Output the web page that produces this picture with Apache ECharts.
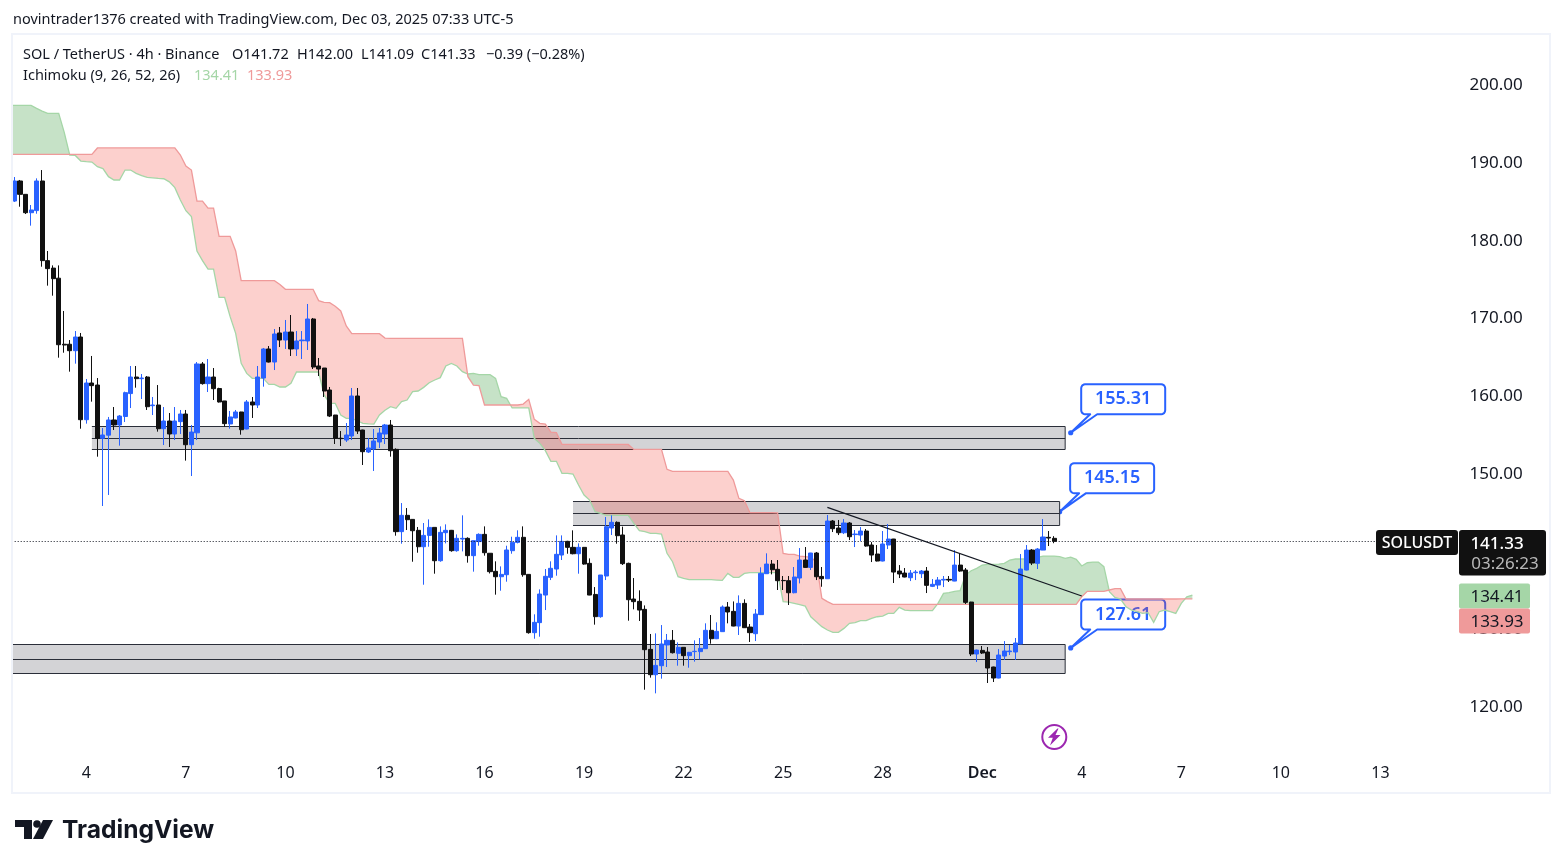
<!DOCTYPE html>
<html>
<head>
<meta charset="utf-8">
<style>html,body{margin:0;padding:0;background:#fff}#c{width:1563px;height:868px}</style>
<script src="https://cdn.jsdelivr.net/npm/echarts@6/dist/echarts.min.js"></script>
</head>
<body>
<div id="c"></div>
<script>
const opens=[185.13,187.71,185.99,183.63,183.9,187.71,177.46,176.5,175.2,166.7,
166.7,165.87,167.63,156.99,161.71,161.45,154.59,155,156.95,156.31,
157.4,160.35,162.48,162.27,162.48,158.79,158.88,155.83,156.82,155.15,
156.74,157.72,153.77,155.3,164.16,161.63,162.48,161,159.4,156.44,
157.21,157.98,155.79,159.27,158.88,162.35,166.09,164.41,168.15,167.24,
168.27,166.09,167.15,167.12,169.95,163.9,163.64,160.81,157.59,154.6,
154.37,154.89,160.04,155.66,152.83,153.22,154.12,155.15,156.3,153.17,
142.58,144.68,144.16,142.75,140.64,142.1,143.13,138.84,142.45,142.75,
140.13,141.63,141.72,139.49,141.3,142.23,139.8,137.47,136.78,137.04,
140.13,141.2,141.85,137.08,129.58,130.87,134.42,136.7,137.77,139.57,
141.33,140.56,139.74,140.56,138.5,134.5,131.64,136.87,143.05,143.78,
142.15,138.5,133.91,133.61,132.58,127.43,124.17,125.33,128,128.59,
126.92,127.69,126.62,127.14,127.14,127.52,129.88,128.8,129.71,132.88,
132.32,130.43,133.35,130.3,129.45,131.9,137.17,138.41,137.73,136.3,
136.27,134.72,136.61,138.93,137.98,139.83,136.82,136.52,143.95,143.05,
142.44,143.69,142.2,142.14,142.66,140.86,139.7,138.8,140.86,141.63,
137.51,137.25,136.65,137.3,137.17,137.51,135.54,135.71,136.35,136.44,
136.22,138.28,137.64,133.52,126.83,127.3,127.09,125.16,123.74,126.57,
127.13,127.09,128.12,137.64,140.21,138.5,140.21,141.85,141.72];
const highs=[188.22,187.84,185.99,184.62,188.05,189.12,178.7,176.85,176.85,170.98,
167.24,168.4,168.15,162.23,165.19,162.35,155.92,157.34,158.62,157.59,
160.6,163.9,163.9,162.87,162.61,159.91,161.45,158.62,157.85,158.62,
158.24,158.24,156.31,164.41,164.41,164.8,163.64,161.1,159.4,158.11,
158.24,158,159.52,159.91,163.9,166.22,166.47,168.66,168.92,169.82,
170.46,168.4,168.4,171.88,170.08,164.93,163.64,161.2,157.6,155.53,
156.56,161.07,161.07,155.7,154.63,155.79,155.92,156.44,156.95,153.3,
146.26,145.62,144.2,143.18,143.69,144.16,143.13,143.26,143.52,142.8,
142.23,144.68,141.85,141.46,142.36,143.26,139.8,138.76,138.11,140.77,
141.93,142.75,143.26,137.1,131.94,135.15,137.77,138.76,142.1,142.1,
141.4,142.75,141.07,140.6,139.14,135.45,137,144.46,144.68,143.9,
143.22,138.59,136.61,135.03,133.09,129.41,129.49,130.56,129.41,129.92,
128.33,127.7,127.1,128.59,128.89,130.78,131.85,130.91,133.09,133.52,
133.6,134.38,133.87,130.69,132.62,137.99,139.79,138.93,138.93,136.87,
136.87,138.03,140.47,140.6,139.85,139.96,138.03,144.72,144.08,144.08,
144.2,143.82,142.79,143.17,142.92,141.24,140.86,142.66,143.56,141.65,
138.28,137.9,137.64,137.64,137.64,138.03,136.48,136.74,136.87,136.87,
140.21,139.83,137.9,133.55,127.4,127.86,127.73,125.2,127.47,128.5,
127.99,128.89,139.7,140.86,140.34,140.47,144.2,142.66,142];
const lows=[185.01,184.4,183.46,181.96,183.5,176.68,174.24,172.95,164.97,165.61,
163.17,164.2,155.83,156.48,159.31,152.23,145.88,147.3,155.66,153.65,
156.69,158.49,161.11,159.65,158.24,157.59,155.45,153.73,153.47,154.37,
155.15,151.72,149.74,154.37,161.5,160.55,159.52,159.2,156.09,155.83,
157.17,155.06,155.75,157.21,158.49,161.24,164.35,163.38,166.34,166.09,
165.19,165.19,164.8,165.96,163.51,162.61,159.91,157.33,153.86,153.6,
154.12,154.37,155.15,151.16,152.7,150.39,153.35,153.86,152.23,142.06,
141.03,142.79,138.71,139.87,135.75,140.64,137.17,138.71,141.07,140,
140,140.04,138.59,137.43,140.77,139.49,137.2,134.47,134.98,136.14,
139.74,141.07,136.78,129.45,128.8,129.06,132.49,136.35,136.91,138.93,
139.74,139.66,137.17,138.33,134.4,130.61,131.5,136.35,142.15,141.03,
138.29,131.12,132.58,131.08,122.24,123.79,121.77,123.66,125.16,126.9,
125.33,125.33,125.07,125.85,126.15,127.5,128.16,128.75,129.7,130.78,
130.4,129.28,130.2,128.38,128.5,131.85,137.15,137.08,135.07,135.07,
133.14,134.64,135.92,137.95,137.64,136.35,135.49,136.5,142.53,142.14,
142.27,141.5,140.6,141.37,140.65,138.67,138.75,138.75,140.34,135.97,
136.61,136.7,136.22,136.35,136.61,134.68,135.45,135.2,135.45,136.1,
136.2,137.42,133.27,126.57,125.8,126.83,123.1,123.23,123.7,126.06,
126.7,126.06,128.1,137.6,138.28,137.77,140.2,140.73,141.09];
const closes=[187.71,185.99,183.63,183.98,187.71,177.46,176.43,175.14,166.64,166.6,
165.87,167.63,156.99,161.71,161.37,154.59,155.02,156.95,156.31,157.46,
160.47,162.48,162.27,162.35,158.66,158.88,155.83,156.82,155.15,156.82,
157.72,153.77,155.4,164.16,161.63,162.48,160.98,159.27,156.48,157.34,
157.98,155.7,159.27,158.88,162.48,166.09,164.41,168.02,167.24,168.27,
166.09,167.12,167.24,169.95,163.77,163.51,160.68,157.46,154.59,154.55,
155.02,160.04,155.53,152.87,153.35,154.25,155.28,156.31,153,142.58,
144.68,144.12,142.7,140.64,142.1,143.13,138.84,142.49,142.75,140.13,
141.72,141.72,139.49,141.42,142.23,139.87,137.43,136.78,137.08,140.22,
141.2,141.85,137.04,129.58,130.91,134.55,136.83,137.86,139.66,141.33,
140.56,139.74,140.56,138.41,134.42,131.64,137,143.22,143.78,142.06,
138.46,133.82,133.57,132.49,127.39,124.17,125.37,128.12,128.59,127,
127.69,126.62,127.05,127.18,127.56,129.88,128.8,129.75,132.88,132.24,
130.43,133.35,130.22,129.58,131.98,137.21,138.41,137.68,136.27,136.27,
134.72,136.74,138.93,137.98,139.83,136.78,136.52,143.95,142.96,142.44,
143.69,141.93,142.27,142.66,140.73,139.57,138.8,140.99,141.63,137.38,
137.13,136.74,137.25,137.38,137.51,135.67,135.8,136.35,136.44,136.35,
138.28,137.51,133.48,126.83,127.34,126.96,125.03,123.74,126.7,127.22,
127.22,128.25,137.77,140.21,138.54,140.34,141.89,141.76,141.33];
const spanA=[197.45,197.45,197.45,197.45,197.06,196.7,196.42,196.42,196.42,193.97,
191.05,191,190.28,190.2,190.15,189.55,189.3,188.27,187.84,187.84,
189.12,189.12,188.7,188.4,188.18,188.12,188.05,188,187.6,186.85,
185.26,183.89,183.12,178.7,177.46,176.38,176.38,172.74,172.74,170.25,
168.1,164.24,162.95,162.31,162.31,162.31,161.54,161.54,161.2,161.2,
161.67,163.13,163.13,163.13,163.13,163.13,160.17,159.1,159.1,157.6,
157.16,157.16,156.85,156.52,156.45,156.43,157.59,158.2,158.66,158.45,
159.31,159.52,160.6,160.68,161.15,161.75,162.1,162.4,163.9,164.24,
163.9,163.17,162.87,162.95,162.78,162.78,162.78,162.3,159.95,159.74,
158.5,158.5,158.5,158.5,154.59,153.94,153,151.63,151.63,150.08,
150.08,150,148.58,147.29,146.65,145.15,144.94,144.68,144.68,144.68,
144.68,144.68,143.65,142.7,142.58,142.36,142.36,142.27,139.79,138.71,
136.78,136.57,136.4,136.4,136.4,136.4,136.4,136.35,136.31,137.21,
136.7,136.7,137.21,137.3,137.3,137.3,137.3,137.3,137.3,133.57,
133.52,133.35,133.18,133,131.63,130.99,130.35,129.92,129.62,129.62,
130.13,130.78,130.86,131.12,131.12,131.42,131.63,131.72,132.06,132.06,
132.84,132.49,132.41,132.41,132.41,132.41,132.41,133.35,134.64,134.72,
134.89,134.98,137,137.55,137.85,138.28,138.37,138.37,138.41,138.5,
138.93,139.06,139.06,139.06,139.14,139.27,139.44,139.44,139.44,139.36,
139.14,139.31,139.01,138.16,138.58,138.67,138.67,138.07,134.85,134.12,
133.91,132.92,132.49,132.28,132.06,132.15,130.9,132.28,132.49,132.28,
132.06,133.35,134.2,134.41];
const spanB=[191.14,191.14,191.14,191.14,191.14,191.14,191.14,191.14,191.14,191.14,
191.14,191.14,191.14,191.14,191.14,191.96,191.96,191.96,191.96,191.96,
191.96,191.96,191.96,191.96,191.96,191.96,191.96,191.96,191.96,191.96,
191.05,189.64,189.12,185.13,185.13,184.23,184.23,180.59,180.59,180.59,
178.7,174.88,174.88,174.88,174.88,174.88,174.88,174.88,174.4,173.77,
173.77,173.77,173.77,173.77,173.77,172.31,172.1,172.05,171.6,170.98,
169.05,168.06,168.06,168.06,168.06,168.06,168.06,167.5,167.46,167.46,
167.46,167.46,167.46,167.46,167.46,167.46,167.46,167.46,167.46,167.46,
167.46,167.46,162.52,161.45,161.37,158.88,158.88,158.88,158.88,158.88,
158.88,158.88,159,159.61,157.03,156.52,156.43,155.4,155.32,153.81,
153.81,153.81,153.81,153.81,153.81,153.81,153.81,153.81,153.81,153.81,
153.81,153.81,153.17,153.17,153.17,153.17,153.17,153.17,150.6,150.34,
150.34,150.34,150.34,150.34,150.34,150.34,150.34,150.34,150.34,150.34,
149.22,146.87,146.57,145.02,145.02,145.02,145.02,145.02,145,139.79,
139.66,139.66,139.44,139.36,139.27,138.71,133.99,133.57,133.22,133.22,
133.22,133.22,133.22,133.22,133.22,133.22,133.22,133.22,133.22,133.22,
133.22,133.22,133.22,133.22,133.22,133.22,133.22,133.22,133.22,133.22,
133.22,133.22,133.22,133.22,133.22,133.22,133.22,133.22,133.22,133.22,
133.22,133.22,133.22,133.22,133.22,133.22,133.22,133.22,133.22,133.22,
133.22,133.22,133.22,134.2,134.9,134.9,134.9,134.9,135.07,135.24,
135.24,133.91,133.91,133.91,133.91,133.91,133.91,133.91,133.91,133.91,
133.91,133.93,133.93,133.93];
const tickIndexes=[13,31,49,67,85,103,121,139,157,175,193,211,229,247];
const tickLabels=['4','7','10','13','16','19','22','25','28','Dec','4','7','10','13'];
const priceTicks=[120,130,140,150,160,170,180,190,200];
const bandStart=[14,101,-1];
const bandEnd=[190,189,190];
const bandTop=[156.11,146.49,128.08];
const bandMid=[154.58,144.94,126.15];
const bandBottom=[153.18,143.31,124.35];
const calloutIndex=[191,189,191];
const calloutPrice=[155.31,145.15,127.61];
const trendIndex=[147,192.9];
const trendPrice=[145.71,134.3];
const lastPrice=141.33;

const BLUE='#2962ff',INK='#131722',FONT='"Noto Sans",sans-serif';
const SLOTS=260;
const categories=[];
for(let i=0;i<SLOTS;i++){const k=tickIndexes.indexOf(i);categories.push(k>=0?tickLabels[k]:'');}
const candles=opens.map((o,i)=>[o,closes[i],lows[i],highs[i]]);

function renderCloud(params,api){
  const n=spanA.length,LEFT=13;
  const up=[],dn=[];
  for(let i=0;i<n;i++){up.push(api.coord([i,spanA[i]]));dn.push(api.coord([i,spanB[i]]));}
  up[0]=[LEFT,up[0][1]];dn[0]=[LEFT,dn[0][1]];
  const kids=[];
  let ra=[up[0]],rb=[dn[0]],sign=spanA[0]>=spanB[0];
  const flush=()=>{kids.push({type:'polygon',silent:true,shape:{points:ra.concat(rb.slice().reverse())},
    style:{fill:sign?'rgba(67,160,71,0.3)':'rgba(244,67,54,0.25)'}});};
  for(let i=1;i<n;i++){
    const s=spanA[i]>=spanB[i];
    if(s!==sign){
      const d0=spanA[i-1]-spanB[i-1],d1=spanA[i]-spanB[i],t=d0/(d0-d1);
      const p=[up[i-1][0]+(up[i][0]-up[i-1][0])*t,up[i-1][1]+(up[i][1]-up[i-1][1])*t];
      ra.push(p);rb.push(p);flush();ra=[p];rb=[p];sign=s;
    }
    ra.push(up[i]);rb.push(dn[i]);
  }
  flush();
  kids.push({type:'polyline',silent:true,shape:{points:up},style:{stroke:'#a5d6a7',lineWidth:1.3,fill:null}});
  kids.push({type:'polyline',silent:true,shape:{points:dn},style:{stroke:'#ef9a9a',lineWidth:1.3,fill:null}});
  return {type:'group',children:kids};
}
function renderBand(params,api){
  const a=api.coord([api.value(0),api.value(2)]),b=api.coord([api.value(1),api.value(4)]),m=api.coord([api.value(0),api.value(3)]);
  const x0=Math.max(13,a[0]),x1=b[0],y0=Math.floor(a[1])+.5,y1=Math.floor(b[1])+.5,ym=Math.floor(m[1])+.5;
  const st={stroke:'#2a2e39',lineWidth:1};
  const ln=(x,y,x2,y2)=>({type:'line',silent:true,shape:{x1:x,y1:y,x2:x2,y2:y2},style:st});
  return {type:'group',children:[
    {type:'rect',silent:true,shape:{x:x0,y:y0,width:x1-x0,height:y1-y0},style:{fill:'#d3d3d6'}},
    ln(x0,y0,x1,y0),ln(x0,ym,x1,ym),ln(x0,y1,x1,y1),ln(x1,y0,x1,y1)]};
}
function renderCallout(params,api){
  const tip=api.coord([api.value(0),api.value(1)]);
  const label=api.value(1).toFixed(2);
  const W=84,H=30,X=tip[0]+10.5,Y=tip[1]-48.5,R=4;
  const arc=(cx,cy,a0)=>{const o=[];for(let k=0;k<=4;k++){const a=a0+k*Math.PI/8;o.push([cx+R*Math.cos(a),cy+R*Math.sin(a)]);}return o;};
  const pts=[].concat(arc(X+R,Y+R,Math.PI),arc(X+W-R,Y+R,-Math.PI/2),arc(X+W-R,Y+H-R,0),
    [[X+16,Y+H],tip,[X+9,Y+H]],arc(X+R,Y+H-R,Math.PI/2));
  return {type:'group',children:[
    {type:'polygon',silent:true,shape:{points:pts},style:{fill:'#fff',stroke:BLUE,lineWidth:2,lineJoin:'round'}},
    {type:'circle',silent:true,shape:{cx:tip[0],cy:tip[1],r:2.6},style:{fill:BLUE}},
    {type:'text',silent:true,style:{text:label,x:X+W/2,y:Y+H/2,align:'center',verticalAlign:'middle',fill:BLUE,font:'600 18px '+FONT}}]};
}
function renderTrend(params,api){
  const a=api.coord([api.value(0),api.value(2)]),b=api.coord([api.value(1),api.value(3)]);
  return {type:'line',silent:true,shape:{x1:a[0],y1:a[1],x2:b[0],y2:b[1]},style:{stroke:INK,lineWidth:1.2}};
}
const HEAD='14.5px '+FONT;
const txt=(x,y,text,fill,font,align)=>({type:'text',z:100,silent:true,x:x,y:y,
  style:{text:text,fill:fill,font:font||HEAD,align:align||'left',verticalAlign:'middle'}});
const box=(x,y,w,h,fill,r)=>({type:'rect',z:99,silent:true,shape:{x:x,y:y,width:w,height:h,r:r||0},style:{fill:fill}});

const option={
  animation:false,backgroundColor:'#fff',
  grid:{left:11.7,width:1437.8,top:7.8,height:777},
  xAxis:{type:'category',data:categories,boundaryGap:true,
    axisLine:{show:false},axisTick:{show:false},splitLine:{show:false},
    axisLabel:{inside:true,margin:3,interval:(i,v)=>v!=='',color:INK,fontFamily:FONT,fontSize:16,
      formatter:v=>v==='Dec'?'{b|Dec}':v,rich:{b:{fontWeight:600,fontSize:16,fontFamily:FONT,color:INK}}}},
  yAxis:{type:'value',position:'right',min:110,max:210,interval:10,scale:true,
    axisLine:{show:false},axisTick:{show:false},splitLine:{show:false},
    axisLabel:{margin:20,padding:[2,0,0,0],color:INK,fontFamily:FONT,fontSize:17,showMinLabel:false,showMaxLabel:false,
      formatter:v=>priceTicks.includes(v)?v.toFixed(2):''}},
  series:[
    {type:'custom',name:'callouts',z:1,renderItem:renderCallout,data:calloutIndex.map((x,i)=>[x,calloutPrice[i]]),encode:{x:0,y:1}},
    {type:'custom',name:'zones',z:2,renderItem:renderBand,
      data:bandStart.map((s,i)=>[s,bandEnd[i],bandTop[i],bandMid[i],bandBottom[i]]),encode:{x:[0,1],y:[2,3,4]}},
    {type:'custom',name:'Ichimoku',z:3,renderItem:renderCloud,data:[[0,spanB[0]]],encode:{x:0,y:1}},
    {type:'candlestick',name:'SOLUSDT',z:4,data:candles,barWidth:4.6,large:false,
      itemStyle:{color:BLUE,color0:'#111',borderColor:BLUE,borderColor0:'#111',borderWidth:1},
      markLine:{silent:true,symbol:'none',label:{show:false},precision:2,animation:false,
        lineStyle:{type:[1,2],color:INK,width:1},data:[{yAxis:lastPrice}]}},
    {type:'custom',name:'trend',z:5,renderItem:renderTrend,data:[[trendIndex[0],trendIndex[1],trendPrice[0],trendPrice[1]]],encode:{x:[0,1],y:[2,3]}}
  ],
  graphic:{elements:[
    {type:'rect',z:98,silent:true,shape:{x:12,y:34,width:1538,height:759},style:{fill:null,stroke:'#f0f3fa',lineWidth:2}},
    txt(13,20,'novintrader1376 created with TradingView.com, Dec 03, 2025 07:33 UTC-5',INK),
    txt(23,54.5,'SOL / TetherUS · 4h · Binance',INK),
    txt(232,54.5,'O141.72',INK),txt(297,54.5,'H142.00',INK),txt(361,54.5,'L141.09',INK),txt(421,54.5,'C141.33',INK),
    txt(486,54.5,'−0.39 (−0.28%)',INK),
    txt(23,75.5,'Ichimoku (9, 26, 52, 26)',INK),
    txt(194,75.5,'134.41','#a5d6a7'),txt(247,75.5,'133.93','#ef9a9a'),
    box(1376,530,82,25,'#111',3),
    txt(1417,543.5,'SOLUSDT','#fff','500 16px '+FONT,'center'),
    box(1459,530,87,45.5,'#111',3),
    txt(1497,544,'141.33','#fff','500 17px '+FONT,'center'),
    txt(1505,564,'03:26:23','#b8b8b8','17px '+FONT,'center'),
    box(1459,583.5,71,25,'#a5d6a7',2),
    txt(1497,597,'134.41',INK,'17px '+FONT,'center'),
    box(1459,608.5,71,25,'#ef9a9a',2),
    txt(1497,622,'133.93',INK,'17px '+FONT,'center'),
    {type:'circle',z:100,silent:true,shape:{cx:1054.3,cy:737,r:12},style:{fill:'#fff',stroke:'#9c27b0',lineWidth:2}},
    {type:'polygon',z:101,silent:true,shape:{points:[[1057.5,728.5],[1048,737.8],[1052.8,737.8],[1050,745.5],[1060.5,735],[1055.5,735],[1058.5,728.5]]},style:{fill:'#9c27b0'}},
    {type:'polygon',z:100,silent:true,shape:{points:[[15,820],[32,820],[32,839],[24,839],[24,827],[15,827]]},style:{fill:INK}},
    {type:'circle',z:100,silent:true,shape:{cx:37,cy:824,r:3.8},style:{fill:INK}},
    {type:'polygon',z:100,silent:true,shape:{points:[[43,820],[53,820],[43,839],[33,839]]},style:{fill:INK}},
    txt(62,831,'TradingView',INK,'700 24.6px Inter,'+FONT)
  ]}
};
const chart=echarts.init(document.getElementById('c'),null,{renderer:'canvas',width:1563,height:868});
chart.setOption(option);
</script>
</body>
</html>
